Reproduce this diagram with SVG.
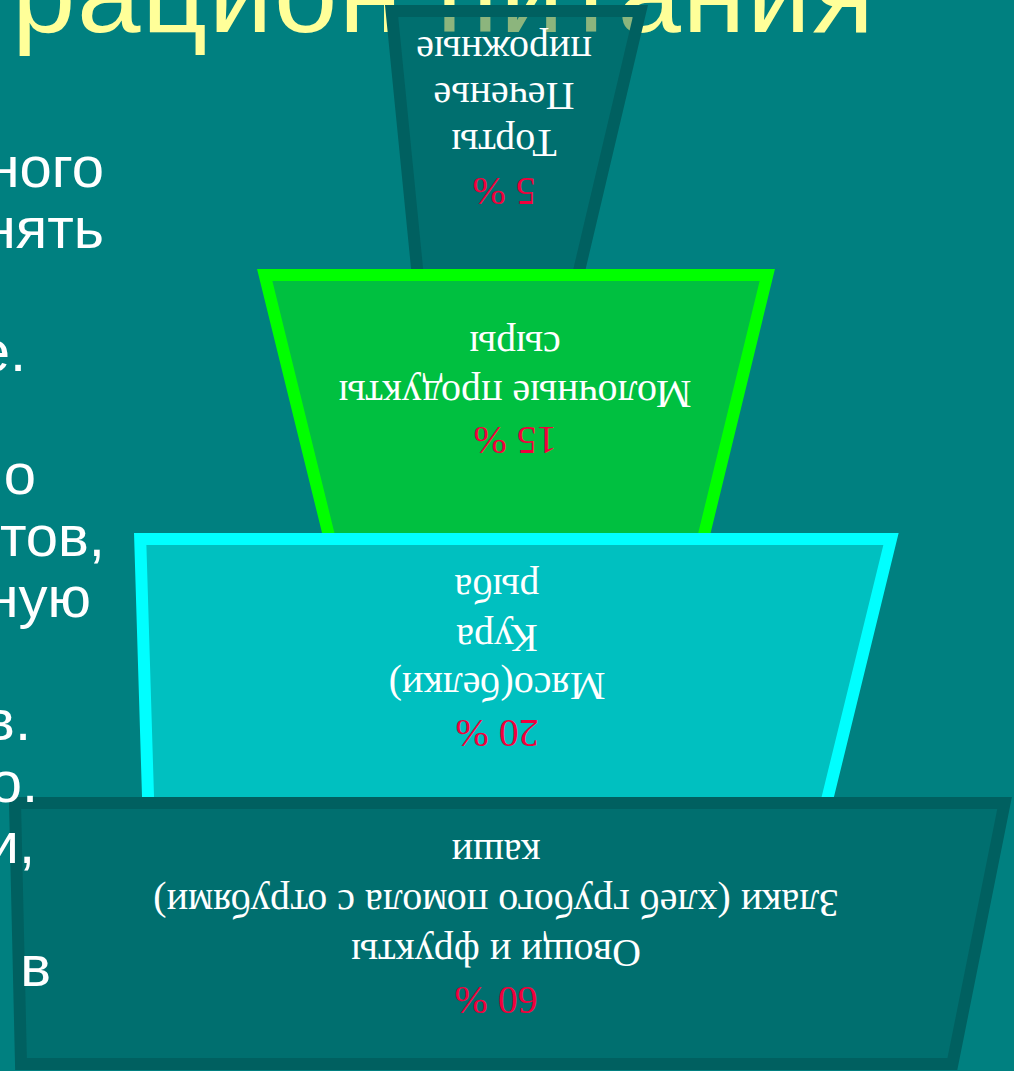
<svg xmlns="http://www.w3.org/2000/svg" width="1014" height="1071" viewBox="0 0 1014 1071">
  <style>
    .title { font-family: "Liberation Sans", Arial, sans-serif; font-size: 114px; fill: #FFFF99; }
    .side { font-family: "Liberation Sans", Arial, sans-serif; font-size: 58px; fill: #FFFFFF; text-anchor: end; }
    .lbl { font-family: "Liberation Serif", "Times New Roman", serif; font-size: 40px; fill: #FFFFFF; text-anchor: middle; }
    .pct { fill: #F0003C; }
    .dark { fill: #005C5C; fill-opacity: 0.45; stroke: #006060; stroke-width: 12; stroke-linejoin: miter; }
    .green { fill: #00C040; stroke: #00FF00; stroke-width: 12; }
    .cyan { fill: #00C0C0; stroke: #00FFFF; stroke-width: 12; }
  </style>
  <rect x="0" y="0" width="1014" height="1071" fill="#008080"/>
  <text class="title" x="12" y="32" textLength="862" lengthAdjust="spacing">рацион питания</text>

  <g id="level-sweets">
    <polygon class="dark" points="391.6,11 640.4,11 576.9,280 418.2,280"/>
    <text class="lbl pct" transform="rotate(180 504 178)" x="504" y="178">5 %</text>
    <text class="lbl" transform="rotate(180 504 130)" x="504" y="130">Торты</text>
    <text class="lbl" transform="rotate(180 504 83)" x="504" y="83">Печенье</text>
    <text class="lbl" transform="rotate(180 504 37)" x="504" y="37">пирожные</text>
  </g>

  <g id="level-dairy">
    <polygon class="green" points="264.7,275 767.3,275 701.5,545 331.2,545"/>
    <text class="lbl pct" transform="rotate(180 515 427)" x="515" y="427">15 %</text>
    <text class="lbl" transform="rotate(180 515 381)" x="515" y="381">Молочные продукты</text>
    <text class="lbl" transform="rotate(180 515 332)" x="515" y="332">сыры</text>
  </g>

  <g id="level-protein">
    <polygon class="cyan" points="140.2,539 891,539 826.3,803 148.2,803"/>
    <text class="lbl pct" transform="rotate(180 497 720)" x="497" y="720">20 %</text>
    <text class="lbl" transform="rotate(180 497 673)" x="497" y="673">Мясо(белки)</text>
    <text class="lbl" transform="rotate(180 497 625)" x="497" y="625">Кура</text>
    <text class="lbl" transform="rotate(180 497 575)" x="497" y="575">рыба</text>
  </g>

  <g id="level-base">
    <polygon class="dark" points="15,803 1004.6,803 952.4,1064 21,1064"/>
    <text class="lbl pct" transform="rotate(180 496 987)" x="496" y="987">60 %</text>
    <text class="lbl" transform="rotate(180 496 940)" x="496" y="940">Овощи и фрукты</text>
    <text class="lbl" transform="rotate(180 496 890)" x="496" y="890">Злаки (хлеб грубого помола с отрубями)</text>
    <text class="lbl" transform="rotate(180 496 840)" x="496" y="840">каши</text>
  </g>

  <g id="connectors"/>

  <g id="side-text">
    <text class="side" x="104" y="187">ного</text>
    <text class="side" x="104" y="248">нять</text>
    <text class="side" x="26" y="371">е.</text>
    <text class="side" x="36" y="494">о</text>
    <text class="side" x="105" y="556">тов,</text>
    <text class="side" x="91" y="617">ную</text>
    <text class="side" x="31" y="740">в.</text>
    <text class="side" x="38" y="802">о.</text>
    <text class="side" x="35" y="863">и,</text>
    <text class="side" x="51" y="986">в</text>
  </g>
</svg>
